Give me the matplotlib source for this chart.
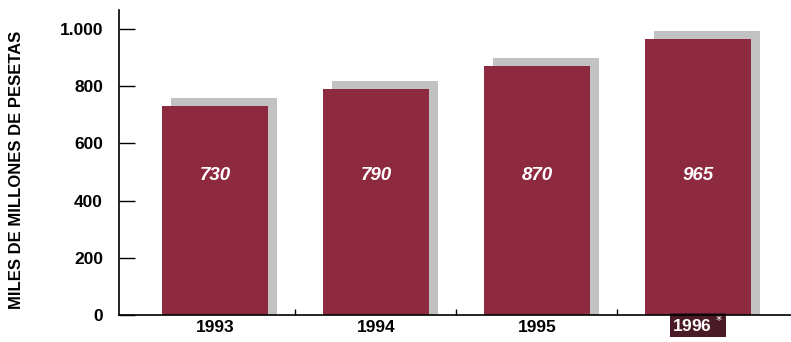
import matplotlib.pyplot as plt
import matplotlib.transforms as mtransforms

# Datos
years = ["1993", "1994", "1995", "1996"]
values = [730, 790, 870, 965]
ylabel = "MILES DE MILLONES DE PESETAS"
yticks = [0, 200, 400, 600, 800, 1000]
yticklabels = ["0", "200", "400", "600", "800", "1.000"]

bar_color = "#8e2a40"
shadow_color = "#c2c2c2"
font = "Liberation Sans"

fig = plt.figure(figsize=(7.91, 3.42), dpi=100)
ax = fig.add_axes([0.1504, 0.0789, 0.8496, 0.8919])

x = list(range(len(years)))
width = 0.66

# Sombra gris detrás de cada barra
ax.bar([i + 0.058 for i in x], [v + 28 for v in values], width=width,
       color=shadow_color, zorder=1)
# Barras
ax.bar(x, values, width=width, color=bar_color, zorder=2)

# Valores dentro de las barras
for i, v in zip(x, values):
    ax.text(i, 486, str(v), ha="center", va="center", color="white",
            fontsize=13.5, fontweight="bold", style="italic", family=font, zorder=3)

ax.set_xlim(-0.596, 3.578)
ax.set_ylim(0, 1066)

# Ejes
ax.spines["top"].set_visible(False)
ax.spines["right"].set_visible(False)
for s in ["left", "bottom"]:
    ax.spines[s].set_linewidth(1.2)
    ax.spines[s].set_zorder(4)

ax.set_yticks(yticks)
ax.set_yticklabels(yticklabels, fontsize=12.5, fontweight="bold", family=font)
ax.tick_params(axis="y", direction="in", length=11.5, width=1, pad=11.5)

# Etiquetas de años como textos (misma línea base)
ax.set_xticks([])
ax.set_xticks([0.5, 1.5, 2.5], minor=True)
ax.tick_params(axis="x", which="minor", direction="in", length=4, width=1)

trans = mtransforms.blended_transform_factory(ax.transData, ax.transAxes)
for i, yr in zip(x, years):
    if i < len(years) - 1:
        ax.text(i, -0.056, yr, transform=trans, ha="center", va="baseline",
                fontsize=12.5, fontweight="bold", family=font, clip_on=False)
    else:
        # Año estimado destacado
        ax.text(i, -0.056, yr + " $^{*}$", transform=trans, ha="center",
                va="baseline", color="white", fontsize=12.5, fontweight="bold",
                family=font, clip_on=False,
                bbox=dict(facecolor="#4a1a26", edgecolor="none", pad=1.5))

ax.set_ylabel(ylabel, fontsize=12, fontweight="bold", family=font)
ax.yaxis.set_label_coords(-0.141, 0.475)

fig.savefig("out.png", dpi=100)
